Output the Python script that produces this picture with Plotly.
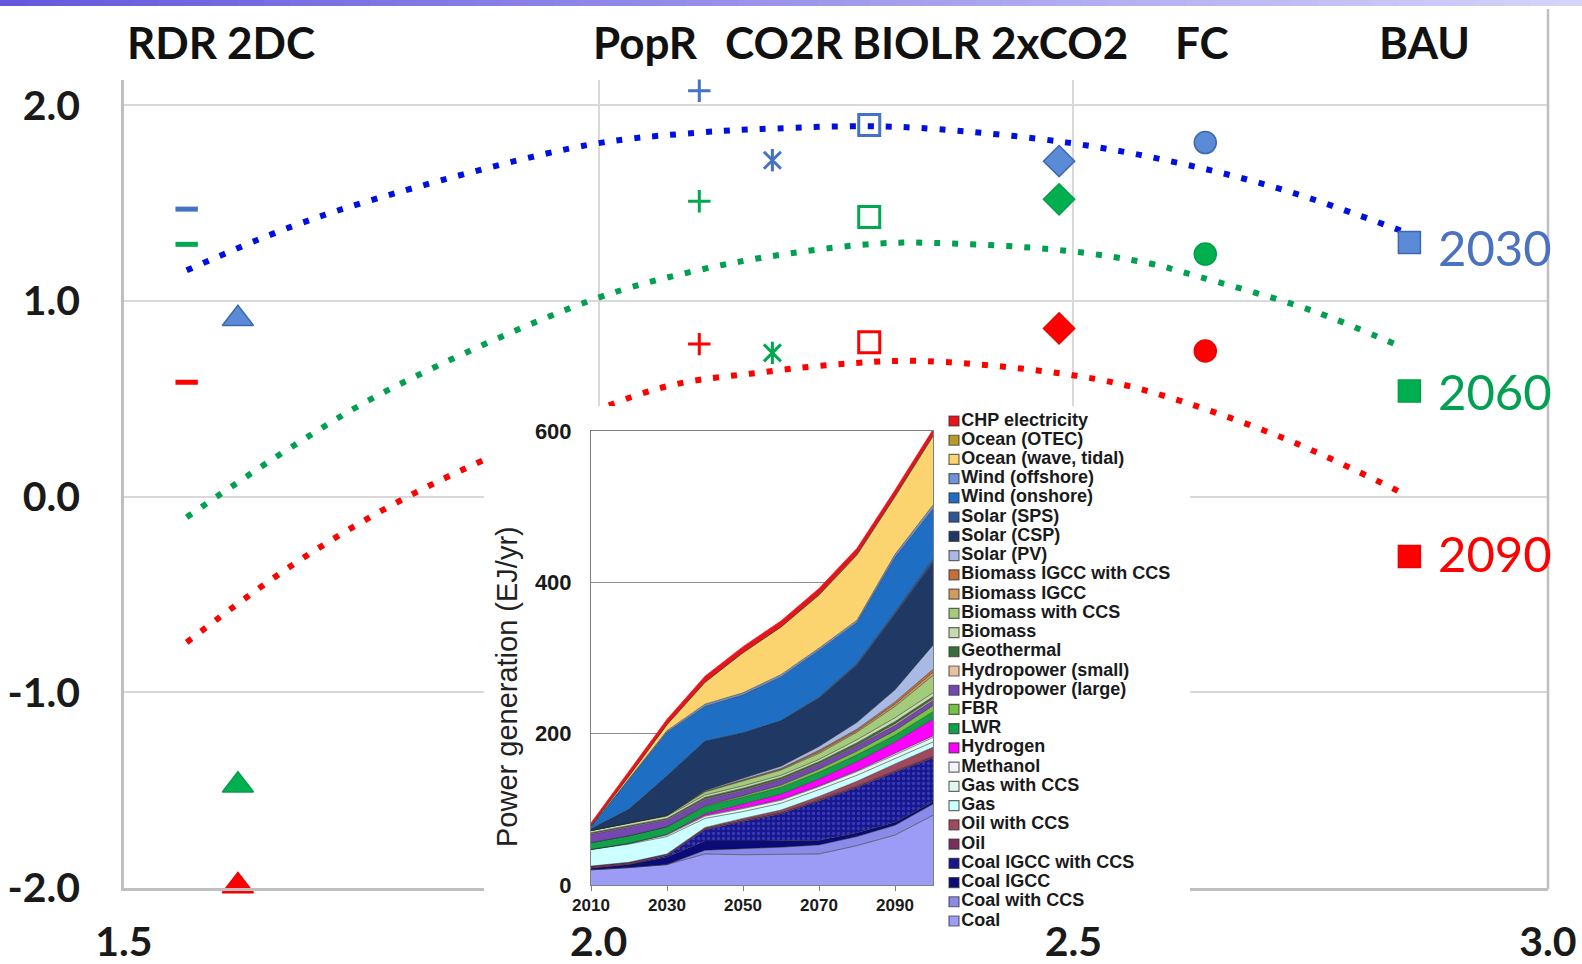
import plotly.graph_objects as go

W, H = 1582, 964

# ---------------- main chart data ----------------
scenarios = ["RDR", "2DC", "PopR", "CO2R", "BIOLR", "2xCO2", "FC", "BAU"]
scenario_x = [1.566, 1.620, 2.106, 2.183, 2.285, 2.485, 2.639, 2.854]
values_2030 = [1.47, 0.91, 2.075, 1.72, 1.90, 1.715, 1.81, 1.30]
values_2060 = [1.29, -1.475, 1.51, 0.735, 1.43, 1.52, 1.24, 0.54]
values_2090 = [0.585, -1.99, 0.78, None, 0.79, 0.86, 0.745, -0.305]

trend_2030_x = [1.566, 1.675, 1.784, 1.991, 2.108, 2.185, 2.282, 2.359, 2.494, 2.609, 2.723, 2.849]
trend_2030_y = [1.157, 1.378, 1.549, 1.800, 1.862, 1.882, 1.894, 1.878, 1.810, 1.708, 1.566, 1.353]
trend_2060_x = [1.566, 1.679, 1.779, 1.992, 2.104, 2.199, 2.294, 2.354, 2.489, 2.582, 2.621, 2.751, 2.842]
trend_2060_y = [-0.105, 0.262, 0.547, 1.004, 1.157, 1.242, 1.294, 1.297, 1.259, 1.191, 1.140, 0.952, 0.773]
trend_2090_x = [1.566, 1.675, 1.775, 1.880, 2.062, 2.174, 2.269, 2.346, 2.501, 2.582, 2.723, 2.848]
trend_2090_y = [-0.744, -0.357, -0.062, 0.190, 0.552, 0.637, 0.683, 0.693, 0.620, 0.535, 0.296, 0.015]

x_ticks = [1.5, 2.0, 2.5, 3.0]
x_tick_labels = ["1.5", "2.0", "2.5", "3.0"]
y_ticks = [-2, -1, 0, 1, 2]
y_tick_labels = ["-2.0", "-1.0", "0.0", "1.0", "2.0"]
year_labels = ["2030", "2060", "2090"]

# ---------------- inset data (EJ/yr) ----------------
inset_years = [2010, 2020, 2030, 2040, 2050, 2060, 2070, 2080, 2090, 2100]
inset_x_ticks = [2010, 2030, 2050, 2070, 2090]
inset_y_ticks = [0, 200, 400, 600]

coal = [20, 23, 27, 41, 40, 40, 41, 52, 66, 92]
coal_ccs = [0, 0, 0, 5, 8, 10, 12, 12, 13, 15]
coal_igcc = [2, 4, 10, 12, 10, 8, 6, 5, 4, 3]
coal_igcc_ccs = [0, 0, 2, 15, 26, 36, 52, 60, 66, 58]
oil = [3, 3, 2, 2, 2, 2, 2, 2, 2, 2]
oil_ccs = [0, 0, 0, 1, 2, 3, 4, 6, 9, 12]
gas = [22, 24, 23, 12, 9, 9, 9, 8, 7, 7]
gas_ccs = [0, 1, 2, 3, 4, 4, 4, 5, 5, 6]
methanol = [0, 0, 1, 1, 1, 1, 1, 1, 2, 2]
hydrogen = [0, 0, 0, 2, 5, 7, 9, 12, 15, 22]
lwr = [9, 10, 10, 10, 9, 9, 9, 9, 9, 10]
fbr = [0, 0, 0, 1, 2, 3, 4, 5, 6, 8]
hydro_large = [11, 11, 9, 8, 7, 7, 7, 7, 7, 7]
hydro_small = [1, 1, 1, 1, 1, 1, 1, 1, 2, 2]
geothermal = [1, 1, 1, 2, 2, 2, 2, 3, 3, 3]
biomass = [3, 4, 3, 3, 3, 3, 3, 4, 5, 5]
biomass_ccs = [0, 0, 1, 4, 6, 7, 8, 10, 15, 23]
biomass_igcc = [0, 0, 0, 1, 1, 1, 2, 2, 3, 4]
biomass_igcc_ccs = [0, 0, 0, 0, 1, 1, 2, 2, 3, 4]
solar_pv = [0, 0, 0, 1, 2, 3, 5, 9, 16, 32]
solar_csp = [2, 18, 52, 65, 60, 60, 64, 76, 100, 110]
solar_sps = [0, 0, 0, 0, 0, 0, 1, 2, 3, 4]
wind_onshore = [3, 40, 58, 46, 50, 58, 62, 54, 72, 66]
wind_offshore = [0, 1, 2, 3, 3, 3, 3, 3, 4, 5]
ocean_wave = [1, 3, 8, 29, 53, 63, 70, 86, 76, 91]
ocean_otec = [0, 0, 0, 0, 0, 0, 1, 1, 1, 1]
chp = [4, 6, 7, 8, 8, 8, 8, 8, 8, 8]

# stack order: bottom -> top
stack_names = ["Coal", "Coal with CCS", "Coal IGCC", "Coal IGCC with CCS", "Oil", "Oil with CCS",
               "Gas", "Gas with CCS", "Methanol", "Hydrogen", "LWR", "FBR",
               "Hydropower (large)", "Hydropower (small)", "Geothermal", "Biomass",
               "Biomass with CCS", "Biomass IGCC", "Biomass IGCC with CCS", "Solar (PV)",
               "Solar (CSP)", "Solar (SPS)", "Wind (onshore)", "Wind (offshore)",
               "Ocean (wave, tidal)", "Ocean (OTEC)", "CHP electricity"]
stack_values = [coal, coal_ccs, coal_igcc, coal_igcc_ccs, oil, oil_ccs, gas, gas_ccs, methanol,
                hydrogen, lwr, fbr, hydro_large, hydro_small, geothermal, biomass, biomass_ccs,
                biomass_igcc, biomass_igcc_ccs, solar_pv, solar_csp, solar_sps, wind_onshore,
                wind_offshore, ocean_wave, ocean_otec, chp]
stack_colors = ["#9C9CF6", "#8A8AE8", "#0A0A78", "#16168E", "#7A2E5C", "#A0485E",
                "#CCFFFF", "#E2F6F0", "#F2F4FA", "#FF00FF", "#12A04A", "#76C442",
                "#7448B0", "#E6C2A0", "#3C6E3C", "#C6DCAE",
                "#A2CC7C", "#D49A60", "#C4703C", "#A8BAE4",
                "#1F3864", "#2F5597", "#1E6FC4", "#6F95D8",
                "#FBD470", "#B89A2A", "#E8141C"]

# ---------------- styles ----------------
LATO = "Lato, 'Open Sans', sans-serif"
ARIAL = "'Liberation Sans', Arial, sans-serif"

year_style = {
    "2030": dict(fill="#5B8BD6", edge="#3D68B0", stroke="#4472C4", curve="#0010E0", label="#4A72C0"),
    "2060": dict(fill="#00B050", edge="#00A048", stroke="#00A850", curve="#00A050", label="#00A050"),
    "2090": dict(fill="#FF0000", edge="#F00000", stroke="#FF0000", curve="#FF0000", label="#FF0000"),
}
marker_style = {
    "RDR": [dict(symbol="line-ew-open", size=16, width=5, filled=False)],
    "2DC": [dict(symbol="triangle-up", size=27, width=1.5, filled=True)],
    "PopR": [dict(symbol="cross-thin-open", size=16, width=3, filled=False)],
    "CO2R": [dict(symbol="x-thin-open", size=17, width=3, filled=False),
             dict(symbol="line-ns-open", size=16, width=3, filled=False)],
    "BIOLR": [dict(symbol="square-open", size=21, width=3, filled=False)],
    "2xCO2": [dict(symbol="diamond", size=24, width=1.5, filled=True)],
    "FC": [dict(symbol="circle", size=22, width=1.5, filled=True)],
    "BAU": [dict(symbol="square", size=22, width=1.5, filled=True)],
}

fig = go.Figure()

series_by_year = {"2030": values_2030, "2060": values_2060, "2090": values_2090}
trends = {"2030": (trend_2030_x, trend_2030_y), "2060": (trend_2060_x, trend_2060_y),
          "2090": (trend_2090_x, trend_2090_y)}

# dotted trend curves
for yr in year_labels:
    tx, ty = trends[yr]
    fig.add_trace(go.Scatter(x=tx, y=ty, mode="lines", xaxis="x", yaxis="y",
                             line=dict(color=year_style[yr]["curve"], width=6, dash="6px,12px",
                                       shape="spline", smoothing=1.0),
                             showlegend=False, hoverinfo="skip"))

# scenario markers
for yr in year_labels:
    vals = series_by_year[yr]
    st = year_style[yr]
    for i, sc in enumerate(scenarios):
        if vals[i] is None:
            continue
        for ms in marker_style[sc]:
            if ms["filled"]:
                mk = dict(symbol=ms["symbol"], size=ms["size"], color=st["fill"],
                          line=dict(color=st["edge"], width=ms["width"]))
            else:
                mk = dict(symbol=ms["symbol"], size=ms["size"], color=st["stroke"],
                          line=dict(color=st["stroke"], width=ms["width"]))
            fig.add_trace(go.Scatter(x=[scenario_x[i]], y=[vals[i]], mode="markers",
                                     xaxis="x", yaxis="y", marker=mk, cliponaxis=False,
                                     showlegend=False, name=f"{sc} {yr}"))

# white cover behind the inset (empty subplot)
fig.add_trace(go.Scatter(x=[None], y=[None], xaxis="x2", yaxis="y2", showlegend=False,
                         hoverinfo="skip"))

# inset stacked area
for name, vals, col in zip(stack_names, stack_values, stack_colors):
    kw = {}
    if name == "Coal IGCC with CCS":
        kw["fillpattern"] = dict(shape=".", bgcolor=col, fgcolor="#5A5AD8", size=5, solidity=0.35)
    line_col = col if name == "CHP electricity" else "rgba(35,35,35,0.75)"
    fig.add_trace(go.Scatter(x=inset_years, y=vals, mode="lines", stackgroup="power",
                             xaxis="x3", yaxis="y3", fillcolor=col,
                             line=dict(color=line_col, width=0.7),
                             name=name, showlegend=False, **kw))

# inset legend drawn as a marker+text column
legend_rows = list(range(len(stack_names)))
fig.add_trace(go.Scatter(x=[6] * len(stack_names), y=legend_rows, mode="markers+text",
                         xaxis="x4", yaxis="y4", text=stack_names, textposition="middle right",
                         textfont=dict(family=ARIAL, size=18, color="#1A1A1A", weight=700),
                         marker=dict(symbol="square", size=10, color=stack_colors,
                                     line=dict(color="rgba(45,45,45,0.7)", width=1.2)),
                         showlegend=False, hoverinfo="skip", cliponaxis=False))


def px_x(p):
    return p / W


def px_y(p):
    return 1 - p / H


grid_col = "#D9D9D9"
axis_col = "#BFBFBF"
tick_font = dict(family=LATO, size=41, color="#1A1A1A", weight=700)

layout = dict(
    width=W, height=H,
    margin=dict(l=0, r=0, t=0, b=0, pad=0, autoexpand=False),
    paper_bgcolor="white", plot_bgcolor="white",
    showlegend=False,
    xaxis=dict(domain=[px_x(124), px_x(1548)], range=[1.5, 3.0], tickvals=x_ticks,
               ticktext=x_tick_labels, tickfont=tick_font, showgrid=True, gridcolor=grid_col,
               gridwidth=2, showline=True, linecolor=axis_col, linewidth=2.5, zeroline=False,
               ticks="outside", ticklen=16, tickcolor="rgba(0,0,0,0)", anchor="y",
               automargin=False, fixedrange=True),
    yaxis=dict(domain=[px_y(888), px_y(80)], range=[-2.0, 2.13], tickvals=y_ticks,
               ticktext=y_tick_labels, tickfont=tick_font, showgrid=True, gridcolor=grid_col,
               gridwidth=2, showline=True, linecolor=axis_col, linewidth=2.5, zeroline=False,
               ticks="outside", ticklen=33, tickcolor="rgba(0,0,0,0)", anchor="x",
               automargin=False, fixedrange=True),
    xaxis2=dict(domain=[px_x(484), px_x(1190)], visible=False, range=[0, 1], anchor="y2",
                automargin=False, fixedrange=True),
    yaxis2=dict(domain=[px_y(921), px_y(406)], visible=False, range=[0, 1], anchor="x2",
                automargin=False, fixedrange=True),
    xaxis3=dict(domain=[px_x(591), px_x(933)], range=[2010, 2100], tickvals=inset_x_ticks,
                tickfont=dict(family=ARIAL, size=17, color="#1A1A1A", weight=700),
                showgrid=False, showline=True, linecolor="#7F7F7F", linewidth=1, mirror=True,
                ticks="outside", ticklen=5, tickcolor="#7F7F7F", zeroline=False, anchor="y3",
                automargin=False, fixedrange=True),
    yaxis3=dict(domain=[px_y(885), px_y(431)], range=[0, 600], tickvals=inset_y_ticks,
                tickfont=dict(family=ARIAL, size=22, color="#1A1A1A", weight=700),
                showgrid=True, gridcolor="#8C8C8C", gridwidth=1, showline=True,
                linecolor="#7F7F7F", linewidth=1, mirror=True, ticks="outside", ticklen=14,
                tickcolor="rgba(0,0,0,0)", zeroline=False, anchor="x3", automargin=False,
                fixedrange=True),
    xaxis4=dict(domain=[px_x(948), px_x(1188)], range=[0, 240], visible=False, anchor="y4",
                automargin=False, fixedrange=True),
    yaxis4=dict(domain=[px_y(921), px_y(421)], range=[0, len(stack_names) - 1],
                visible=False, anchor="x4", automargin=False, fixedrange=True),
)
fig.update_layout(**layout)

# header scenario labels
header_centers_px = [172, 270.5, 645, 783.5, 916.6, 1059.4, 1201.6, 1424]
annotations = []
for name, cx in zip(scenarios, header_centers_px):
    annotations.append(dict(text=name, x=px_x(cx), y=px_y(42), xref="paper", yref="paper",
                            xanchor="center", yanchor="middle", showarrow=False,
                            font=dict(family=LATO, size=44, color="#111111", weight=700)))

# year labels next to BAU markers
year_yshift = {"2030": -5, "2060": 0, "2090": 3}
for yr in year_labels:
    annotations.append(dict(text=yr, x=scenario_x[-1], y=series_by_year[yr][-1], xref="x",
                            yref="y", xanchor="left", yanchor="middle", xshift=27,
                            yshift=year_yshift[yr], showarrow=False,
                            font=dict(family=LATO, size=49, color=year_style[yr]["label"])))

# inset y-axis title
annotations.append(dict(text="Power generation (EJ/yr)", x=px_x(507), y=px_y(687),
                        xref="paper", yref="paper", xanchor="center", yanchor="middle",
                        textangle=-90, showarrow=False,
                        font=dict(family=ARIAL, size=29, color="#222222")))
fig.update_layout(annotations=annotations)

# decorative frame: right border and purple gradient bar at the top
shapes = [dict(type="line", xref="paper", yref="paper", x0=px_x(1548), x1=px_x(1548),
               y0=px_y(889), y1=px_y(9), line=dict(color=axis_col, width=2.5), layer="above")]
n_seg = 60
c0 = (0x66, 0x58, 0xDE)
c1 = (0xD4, 0xD4, 0xFA)
for k in range(n_seg):
    t = k / (n_seg - 1)
    col = "rgb(%d,%d,%d)" % tuple(int(a + (b - a) * t) for a, b in zip(c0, c1))
    shapes.append(dict(type="rect", xref="paper", yref="paper", x0=k / n_seg,
                       x1=(k + 1) / n_seg + 0.002, y0=px_y(6), y1=1, line=dict(width=0),
                       fillcolor=col, layer="above"))
fig.update_layout(shapes=shapes)

fig.write_html("out.html", config={"displayModeBar": False},
               post_script="document.body.style.margin='0';document.body.style.overflow='hidden';")
